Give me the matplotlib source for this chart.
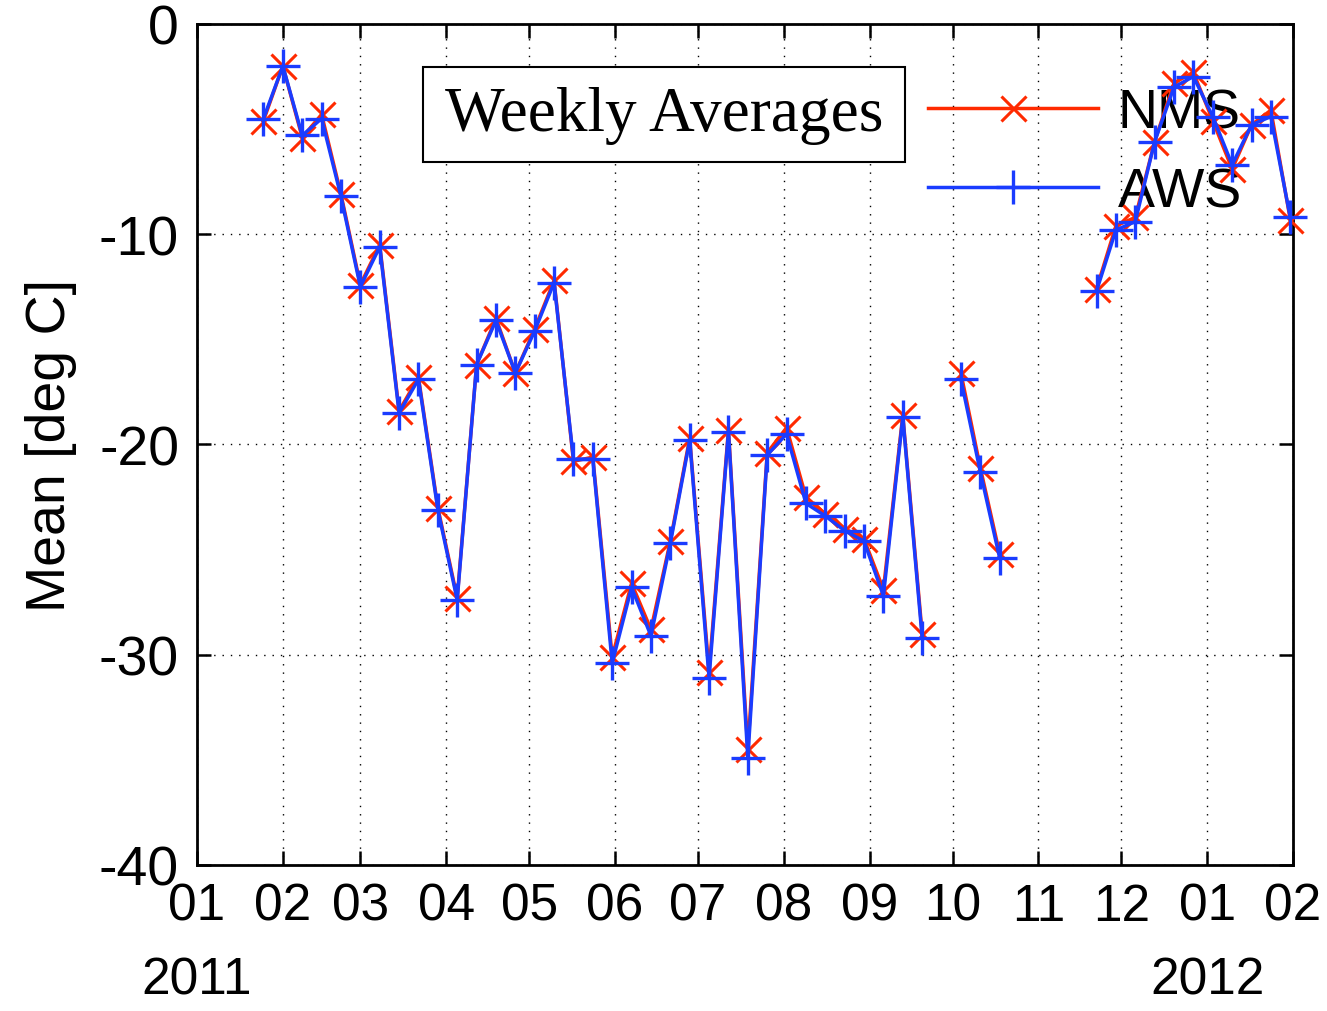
import numpy as np
import pandas as pd
import matplotlib
matplotlib.use('Agg')
import matplotlib.pyplot as plt
from matplotlib.patches import Rectangle

nan = np.nan

# weekly averages, one value per week starting 2011-01-25 (nan = no data)
weeks = pd.date_range('2011-01-25', periods=54, freq='7D')
nms = [-4.6, -2.0, -5.4, -4.3, -8.1, -12.4, -10.5, -18.4, -16.8, -23.0,
       -27.3, -16.2, -14.0, -16.6, -14.5, -12.2, -20.8, -20.6, -30.1, -26.6,
       -28.8, -24.6, -19.7, -30.8, -19.3, -34.5, -20.4, -19.2, -22.5, -23.3,
       -24.0, -24.5, -26.9, -18.6, -29.0, nan, -16.6, -21.1, -25.2, nan,
       nan, nan, nan, -12.6, -9.6, -9.2, -5.6, -2.8, -2.3, -4.6,
       -6.9, -4.8, -4.1, -9.3]
aws = [-4.5, -2.0, -5.3, -4.5, -8.2, -12.5, -10.6, -18.5, -16.9, -23.1,
       -27.4, -16.2, -14.1, -16.6, -14.6, -12.3, -20.7, -20.7, -30.4, -26.8,
       -29.1, -24.7, -19.8, -31.1, -19.4, -34.9, -20.5, -19.5, -22.8, -23.4,
       -24.1, -24.6, -27.2, -18.7, -29.2, nan, -16.9, -21.3, -25.4, nan,
       nan, nan, nan, -12.7, -9.8, -9.4, -5.6, -3.0, -2.5, -4.4,
       -6.7, -4.8, -4.4, -9.2]

month_ticks = pd.date_range('2011-01-01', '2012-02-01', freq='MS')
y_ticks = [0, -10, -20, -30, -40]

red = '#ff2a00'
blue = '#1a3cff'

plt.rcParams['font.family'] = ['Liberation Sans', 'DejaVu Sans']

fig = plt.figure(figsize=(13.27, 10.12), dpi=100)
ax = fig.add_axes([0.1485, 0.1443, 0.8259, 0.831])

ax.plot(weeks, nms, color=red, lw=2.5, marker='x', ms=18, mew=2.2,
        label='NMS', clip_on=False, zorder=3)
ax.plot(weeks, aws, color=blue, lw=2.5, marker='+', ms=24, mew=2.4,
        label='AWS', clip_on=False, zorder=4)

ax.set_xlim(month_ticks[0], month_ticks[-1])
ax.set_ylim(-40, 0)
ax.set_yticks(y_ticks)
ax.set_yticklabels([str(v) for v in y_ticks])
ax.set_xticks(month_ticks)
labels = []
for d in month_ticks:
    lab = d.strftime('%m')
    if d.month == 1:
        lab += '\n' + d.strftime('%Y')
    labels.append(lab)
ax.set_xticklabels(labels)

ax.tick_params(axis='both', direction='in', length=10, width=1.8,
               top=True, right=True)
ax.tick_params(axis='y', pad=13, labelsize=40)
ax.tick_params(axis='x', pad=12, labelsize=37)
for t in ax.get_xticklabels():
    t.set_linespacing(1.66)
for s in ax.spines.values():
    s.set_linewidth(2.0)

ax.grid(True, color='black', linestyle=(0, (1, 5)), linewidth=1.0)
ax.set_axisbelow(True)
ax.set_ylabel('Mean [deg C]', fontsize=40, labelpad=16)

# title box
ax.add_patch(Rectangle((0.206, 0.836), 0.44, 0.113, transform=ax.transAxes,
                       facecolor='white', edgecolor='black', lw=1.5, zorder=5))
ax.text(0.426, 0.892, 'Weekly Averages', transform=ax.transAxes,
        ha='center', va='center', fontsize=45.5,
        family=['Liberation Serif', 'DejaVu Serif'], zorder=6)

leg = ax.legend(loc='upper left', bbox_to_anchor=(0.667, 0.925), frameon=False,
                fontsize=40, handlelength=3.05, handletextpad=0.36,
                labelspacing=0.5, borderaxespad=0, borderpad=0)
leg.set_zorder(2)

fig.savefig('out.png', dpi=100)
